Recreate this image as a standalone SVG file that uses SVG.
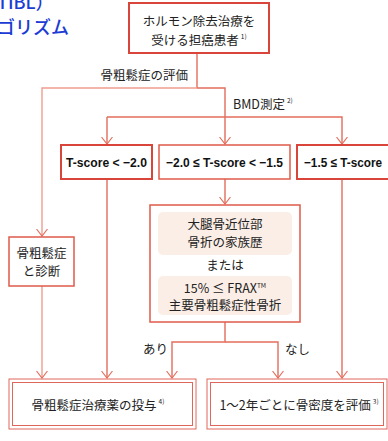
<svg xmlns="http://www.w3.org/2000/svg" width="388" height="441" viewBox="0 0 388 441">
<style>
text{font-family:"Noto Sans CJK JP","Noto Sans",sans-serif;fill:#222}
.t{font-size:12.5px;text-anchor:middle}
.b{font-family:"Liberation Sans","Noto Sans",sans-serif;font-weight:700;font-size:13px;text-anchor:middle;fill:#111}
.sup{font-size:6.5px}
.l{fill:none;stroke:#e36d5c;stroke-width:1.4}
.ll{fill:none;stroke:#ef9d8f;stroke-width:1.4}
.ah{fill:none;stroke:#e36d5c;stroke-width:1.1}
.bx{fill:#fff;stroke:#d9453a;stroke-width:2}
.bx2{fill:#fff;stroke:#e05a4b;stroke-width:1.5}
.pk{fill:#fbeee6}
.dbl{fill:#fff;stroke:#e0665a;stroke-width:1}
.blue{fill:#1c3cd4;font-size:18px;font-weight:500}
</style>
<defs>
<marker id="ar" viewBox="0 0 12 8" refX="6" refY="7.5" markerWidth="12" markerHeight="8" markerUnits="userSpaceOnUse" orient="0">
<path d="M0.5,0.5 L6,7.5 L11.5,0.5" class="ah"/>
</marker>
</defs>

<g id="title">
<text class="blue" x="-3" y="9">TIBL）</text>
<text class="blue" x="-3" y="34">ゴリズム</text>
</g>

<g id="connectors">
<path class="l" d="M197,53 V88"/>
<path class="ll" d="M197,88 H42 V236" marker-end="url(#ar)"/>
<path class="l" d="M197,88 H225 V144" marker-end="url(#ar)"/>
<path class="l" d="M107,117 V144" marker-end="url(#ar)"/>
<path class="l" d="M107,117 H342 V144" marker-end="url(#ar)"/>
<path class="ll" d="M42,286 V378" marker-end="url(#ar)"/>
<path class="l" d="M107,179 V378" marker-end="url(#ar)"/>
<path class="l" d="M225,179 V204" marker-end="url(#ar)"/>
<path class="l" d="M342,179 V378" marker-end="url(#ar)"/>
<path class="l" d="M225,322 V342 H172 V378" marker-end="url(#ar)"/>
<path class="l" d="M225,342 H278 V378" marker-end="url(#ar)"/>
<text x="188" y="80" style="font-size:12.5px;text-anchor:end">骨粗鬆症の評価</text>
<text x="233" y="109" style="font-size:12.5px">BMD測定<tspan class="sup" dx="2" dy="-6">2)</tspan></text>
<text x="143" y="354" style="font-size:12.5px">あり</text>
<text x="285" y="354" style="font-size:12.5px">なし</text>
</g>

<g id="start">
<rect class="bx" x="129" y="3" width="140" height="50"/>
<text class="t" x="199" y="26">ホルモン除去治療を</text>
<text class="t" x="199" y="45">受ける担癌患者<tspan class="sup" dx="2" dy="-6">1)</tspan></text>
</g>

<g id="ts1">
<rect class="bx" x="61" y="145" width="91" height="34"/>
<text class="b" x="106.5" y="167" textLength="81" lengthAdjust="spacingAndGlyphs">T-score &lt; −2.0</text>
</g>
<g id="ts2">
<rect class="bx2" x="159" y="145" width="131" height="34"/>
<text class="b" x="224.5" y="167" textLength="117" lengthAdjust="spacingAndGlyphs">−2.0 ≤ T-score &lt; −1.5</text>
</g>
<g id="ts3">
<rect class="bx" x="297" y="145" width="92" height="34"/>
<text class="b" x="343" y="167" textLength="78" lengthAdjust="spacingAndGlyphs">−1.5 ≤ T-score</text>
</g>

<g id="diag">
<rect class="bx2" x="9" y="237" width="65" height="49"/>
<text class="t" x="41.5" y="258">骨粗鬆症</text>
<text class="t" x="41.5" y="276">と診断</text>
</g>

<g id="criteria">
<rect class="bx2" x="150" y="205" width="150" height="117"/>
<rect class="pk" x="158" y="212" width="134" height="43" rx="5"/>
<text class="t" x="225" y="229">大腿骨近位部</text>
<text class="t" x="225" y="247">骨折の家族歴</text>
<text class="t" x="225" y="270">または</text>
<rect class="pk" x="158" y="276" width="134" height="39" rx="5"/>
<text class="t" x="225" y="293">15% ≤ FRAX<tspan style="font-size:6.5px" dy="-5">TM</tspan></text>
<text class="t" x="225" y="310">主要骨粗鬆症性骨折</text>
</g>

<g id="treat">
<rect class="dbl" x="9" y="379" width="187" height="50"/>
<rect class="dbl" x="12.5" y="382.5" width="180" height="43"/>
<text class="t" x="98" y="410">骨粗鬆症治療薬の投与<tspan class="sup" dx="2" dy="-6">4)</tspan></text>
</g>

<g id="monitor">
<rect class="dbl" x="207" y="379" width="180" height="50"/>
<rect class="dbl" x="210.5" y="382.5" width="173" height="43"/>
<text class="t" x="299" y="410">1〜2年ごとに骨密度を評価<tspan class="sup" dx="2" dy="-6">3)</tspan></text>
</g>
</svg>
